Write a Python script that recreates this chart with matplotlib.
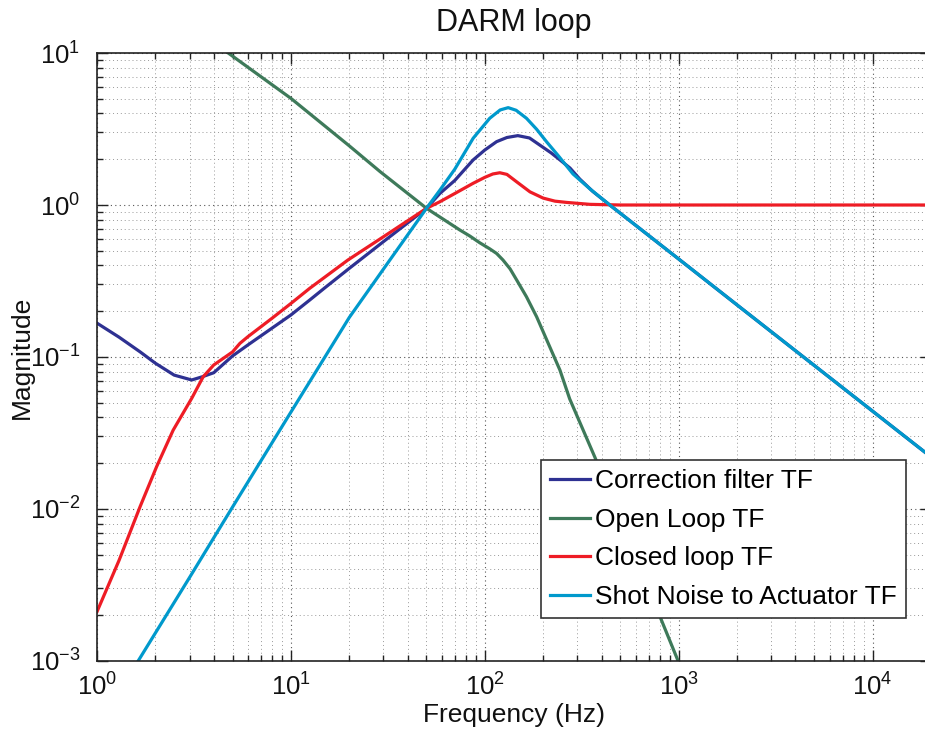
import matplotlib
matplotlib.use("Agg")
import matplotlib.pyplot as plt
from matplotlib.ticker import LogLocator, NullFormatter

# ---- data ----
f_corr = [1, 1.3, 1.67, 2, 2.5, 3.08, 3.5, 4, 5, 6, 8, 10, 12.5, 15, 20, 30, 50, 58.6,
          70, 87.1, 100, 115, 130, 148, 170, 192, 220, 244, 275, 309, 360, 441, 1000,
          2000, 5000, 1e4, 2e4]
v_corr = [0.167, 0.135, 0.108, 0.091, 0.076, 0.0706, 0.0742, 0.0788, 0.1016, 0.12, 0.155,
          0.189, 0.237, 0.286, 0.383, 0.574, 0.95, 1.19, 1.45, 1.98, 2.3, 2.61, 2.78,
          2.86, 2.76, 2.48, 2.2, 1.98, 1.75, 1.48, 1.23, 1.0, 0.441, 0.22, 0.088, 0.044,
          0.022]

f_open = [4.75, 10, 20, 28.8, 50.1, 74.3, 83.7, 94, 106, 115, 124, 135, 146, 164, 185,
          216, 244, 274, 369, 500, 600, 814, 993]
v_open = [10, 5.03, 2.45, 1.66, 0.95, 0.685, 0.625, 0.565, 0.515, 0.48, 0.435, 0.38,
          0.321, 0.249, 0.184, 0.117, 0.082, 0.053, 0.022, 0.00855, 0.00484, 0.00186,
          0.001]

f_closed = [1, 1.3, 1.67, 2.03, 2.47, 3.08, 3.53, 4, 5, 5.46, 6, 8, 10, 12.5, 19.7, 30,
            50, 58.6, 70, 87.1, 100, 110, 119.5, 130, 146, 171, 200, 230, 264, 348, 500,
            1000, 2e4]
v_closed = [0.00211, 0.0046, 0.0104, 0.019, 0.033, 0.0535, 0.0742, 0.0886, 0.108, 0.123,
            0.136, 0.18, 0.225, 0.283, 0.435, 0.618, 0.95, 1.05, 1.19, 1.39, 1.52, 1.6,
            1.63, 1.59, 1.42, 1.22, 1.11, 1.06, 1.04, 1.01, 1.0, 1.0, 1.0]

f_shot = [1.63, 3, 5, 10, 12.5, 20, 32.4, 50, 58.6, 70, 87.1, 106, 120, 132, 145, 164,
          185, 208, 240, 285, 350, 441, 1000, 2000, 5000, 1e4, 2e4]
v_shot = [0.001, 0.00354, 0.0103, 0.0434, 0.0688, 0.182, 0.435, 0.95, 1.25, 1.72, 2.75,
          3.72, 4.22, 4.37, 4.2, 3.72, 3.15, 2.61, 2.1, 1.6, 1.27, 1.0, 0.441, 0.22,
          0.088, 0.044, 0.022]

labels = ["Correction filter TF", "Open Loop TF", "Closed loop TF",
          "Shot Noise to Actuator TF"]
colors = ["#2E3192", "#3E7A5A", "#EE1C25", "#0099CC"]

plt.rcParams['font.family'] = ['Liberation Sans', 'DejaVu Sans']
plt.rcParams['mathtext.fontset'] = 'custom'
plt.rcParams['mathtext.rm'] = 'Liberation Sans'
plt.rcParams['mathtext.it'] = 'Liberation Sans:italic'

W, H = 925, 734
fig = plt.figure(figsize=(W / 100, H / 100), dpi=100)
left, right, top, bottom = 97, 931, 53, 661
ax = fig.add_axes([left / W, (H - bottom) / H, (right - left) / W, (bottom - top) / H])

for fx, vy, lab, c in zip([f_corr, f_open, f_closed, f_shot],
                          [v_corr, v_open, v_closed, v_shot], labels, colors):
    ax.plot(fx, vy, color=c, lw=2.3, label=lab, solid_joinstyle='round')

ax.set_xscale('log')
ax.set_yscale('log')
ax.set_xlim(1, 2e4)
ax.set_ylim(1e-3, 10)

ax.xaxis.set_major_locator(LogLocator(base=10, numticks=10))
ax.xaxis.set_minor_locator(LogLocator(base=10, subs=range(2, 10), numticks=100))
ax.yaxis.set_major_locator(LogLocator(base=10, numticks=10))
ax.yaxis.set_minor_locator(LogLocator(base=10, subs=range(2, 10), numticks=100))
ax.xaxis.set_minor_formatter(NullFormatter())
ax.yaxis.set_minor_formatter(NullFormatter())

ax.tick_params(which='both', direction='in', top=True, right=True, labelsize=18.5,
               color='#222222', width=1.0, labelcolor='#111111')
ax.tick_params(which='major', length=8)
ax.tick_params(which='minor', length=4)
ax.tick_params(axis='x', pad=9)
ax.tick_params(axis='y', pad=12)

ax.grid(True, which='major', linestyle=(0, (1, 3)), color='#555555', lw=0.8)
ax.grid(True, which='minor', linestyle=(0, (1, 3)), color='#999999', lw=0.7)
for s in ax.spines.values():
    s.set_color('#222222')
    s.set_linewidth(1.2)

ax.set_title("DARM loop", fontsize=22, pad=16, color='#111111')
ax.set_xlabel("Frequency (Hz)", fontsize=19, labelpad=2, color='#111111')
ax.set_ylabel("Magnitude", fontsize=19, labelpad=-3, color='#111111')

leg = ax.legend(loc='lower left', bbox_to_anchor=(0.532, 0.0707), fontsize=19,
                handlelength=1.5, handletextpad=0.2, labelspacing=0.55,
                borderpad=0.35, borderaxespad=0.0, fancybox=False, framealpha=1,
                edgecolor='#333333')
leg.get_frame().set_linewidth(1.2)

fig.savefig("out.png", dpi=100)
